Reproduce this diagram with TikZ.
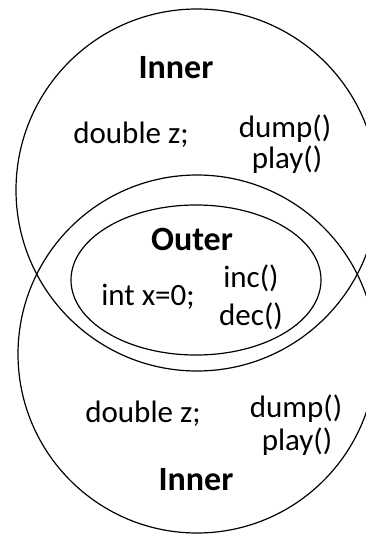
\documentclass[tikz,border=0pt]{standalone}
\usepackage{fontspec}
\setmainfont{Carlito}
\begin{document}
\begin{tikzpicture}[x=1pt,y=-1pt,
  lbl/.style={anchor=base,inner sep=0pt,font=\fontsize{31}{36}\selectfont},
  ttl/.style={anchor=base,inner sep=0pt,font=\fontsize{34}{40}\selectfont\bfseries},
  ring/.style={draw=black,line width=1.2pt}]
\useasboundingbox (0,0) rectangle (366,535);
\begin{scope}
\clip (0,0) rectangle (366,535);
\draw[ring] (197,190) circle (181);
\draw[ring] (197,354) circle (179);
\draw[ring] (196,280) ellipse (125 and 75);
\end{scope}
% top Inner
\node[ttl] (inner1) at (176,78) {Inner};
\node[lbl] (dz1) at (131,143) {double z;};
\node[lbl] (dump1) at (285,137) {dump()};
\node[lbl] (play1) at (287,168) {play()};
% Outer
\node[ttl] (outer) at (192,250) {Outer};
\node[lbl] (intx) at (148,305) {int x=0;};
\node[lbl] (inc) at (251,287) {inc()};
\node[lbl] (dec) at (251,325) {dec()};
% bottom Inner
\node[lbl] (dz2) at (143,422) {double z;};
\node[lbl] (dump2) at (296,417) {dump()};
\node[lbl] (play2) at (297,450) {play()};
\node[ttl] (inner2) at (196,490) {Inner};
\end{tikzpicture}
\end{document}
